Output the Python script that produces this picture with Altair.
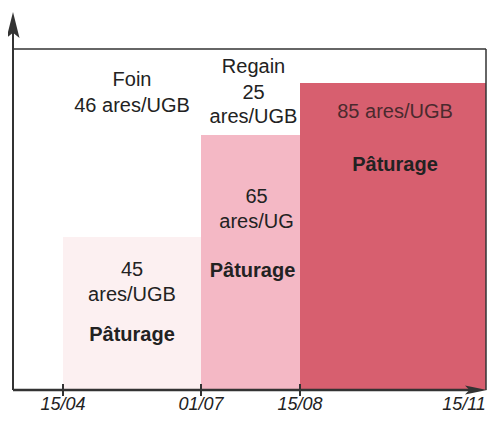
import altair as alt
import pandas as pd

# Schematic x positions (chart units) of the period boundaries
period_start = [50, 188, 287]
period_end = [188, 287, 473]
period_height = [153, 255, 307]
period_color = ["#fcf0f1", "#f4b8c5", "#d75f6f"]

tick_labels = ["15/04", "01/07", "15/08", "15/11"]
tick_pos = [50, 188, 287, 451]
tick_marked = [True, True, True, False]

frame_right = 473
frame_top = 341
x_max = 474
y_max = 378

FONT = "Liberation Sans"

rects = pd.DataFrame({
    "x": period_start, "x2": period_end, "y": [0, 0, 0],
    "y2": period_height, "c": period_color,
})

xs = alt.Scale(domain=[0, x_max], nice=False, zero=False)
ys = alt.Scale(domain=[0, y_max], nice=False, zero=False)

rect_layer = alt.Chart(rects).mark_rect().encode(
    x=alt.X("x:Q", scale=xs, axis=None), x2="x2:Q",
    y=alt.Y("y:Q", scale=ys, axis=None), y2="y2:Q",
    color=alt.Color("c:N", scale=None),
)

mid = [(a + b) / 2 for a, b in zip(period_start, period_end)]

texts_normal = pd.DataFrame({
    "t": ["Foin", "46 ares/UGB", "Regain", "25", "ares/UGB",
          "65", "ares/UG", "45", "ares/UGB"],
    "x": [mid[0], mid[0], mid[1] + 3, mid[1] + 3, mid[1] + 3,
          mid[1] + 6, mid[1] + 6, mid[0], mid[0]],
    "y": [310, 284, 323, 297, 273, 193, 168, 120, 95],
})
texts_red = pd.DataFrame({"t": ["85 ares/UGB"], "x": [mid[2] + 2], "y": [278]})
texts_bold = pd.DataFrame({
    "t": ["Pâturage", "Pâturage", "Pâturage"],
    "x": [mid[2] + 2, mid[1] + 2, mid[0]],
    "y": [225, 119, 55],
})

def text_layer(df, color, weight="normal", size=20):
    return alt.Chart(df).mark_text(
        font=FONT, fontSize=size, fontWeight=weight, color=color,
        align="center", baseline="middle",
    ).encode(x=alt.X("x:Q", scale=xs), y=alt.Y("y:Q", scale=ys), text="t:N")

# axes & frame
axis_lines = pd.DataFrame({
    "x": [0, 0, 0, frame_right], "x2": [x_max - 10, 0, frame_right, frame_right],
    "y": [0, 0, frame_top, 0], "y2": [0, y_max - 20, frame_top, frame_top],
    "w": [2.5, 2, 1.5, 1.5],
})
axis_layer = alt.Chart(axis_lines).mark_rule(color="#333333").encode(
    x=alt.X("x:Q", scale=xs), x2="x2:Q",
    y=alt.Y("y:Q", scale=ys), y2="y2:Q",
    strokeWidth=alt.StrokeWidth("w:Q", scale=None),
)

ticks = pd.DataFrame({"x": [p for p, m in zip(tick_pos, tick_marked) if m]})
tick_layer = alt.Chart(ticks).mark_rule(color="#333333", strokeWidth=2).encode(
    x=alt.X("x:Q", scale=xs),
    y=alt.datum(6, scale=ys), y2=alt.datum(-6),
)

labels = pd.DataFrame({"t": tick_labels, "x": tick_pos})
label_layer = alt.Chart(labels).mark_text(
    font=FONT, fontSize=18, fontStyle="italic", color="#222222",
    baseline="alphabetic",
).encode(x=alt.X("x:Q", scale=xs), y=alt.datum(-20, scale=ys), text="t:N")

arrow_up = alt.Chart(pd.DataFrame({"a": [1]})).mark_point(
    shape="M0,-1L0.5,1L0,0.6L-0.5,1Z", filled=True, color="#333333",
    size=676, opacity=1,
).encode(x=alt.datum(0, scale=xs), y=alt.datum(y_max - 13, scale=ys))

arrow_right = alt.Chart(pd.DataFrame({"a": [1]})).mark_point(
    shape="M1,0L-1,-0.4L-0.6,0L-1,0.4Z", filled=True, color="#333333",
    size=484, opacity=1,
).encode(x=alt.datum(x_max - 11, scale=xs), y=alt.datum(0, scale=ys))

chart = alt.layer(
    rect_layer, axis_layer, tick_layer, label_layer,
    text_layer(texts_normal, "#222222"),
    text_layer(texts_red, "#4a2a2e"),
    text_layer(texts_bold, "#222222", "bold"),
    arrow_up, arrow_right,
).properties(
    width=x_max, height=y_max,
    autosize=alt.AutoSizeParams(type="none"),
    padding={"left": 5, "top": 4, "right": 0, "bottom": 23},
).configure_view(stroke=None)

chart.save("out.html", embed_options={"renderer": "svg", "actions": False})
